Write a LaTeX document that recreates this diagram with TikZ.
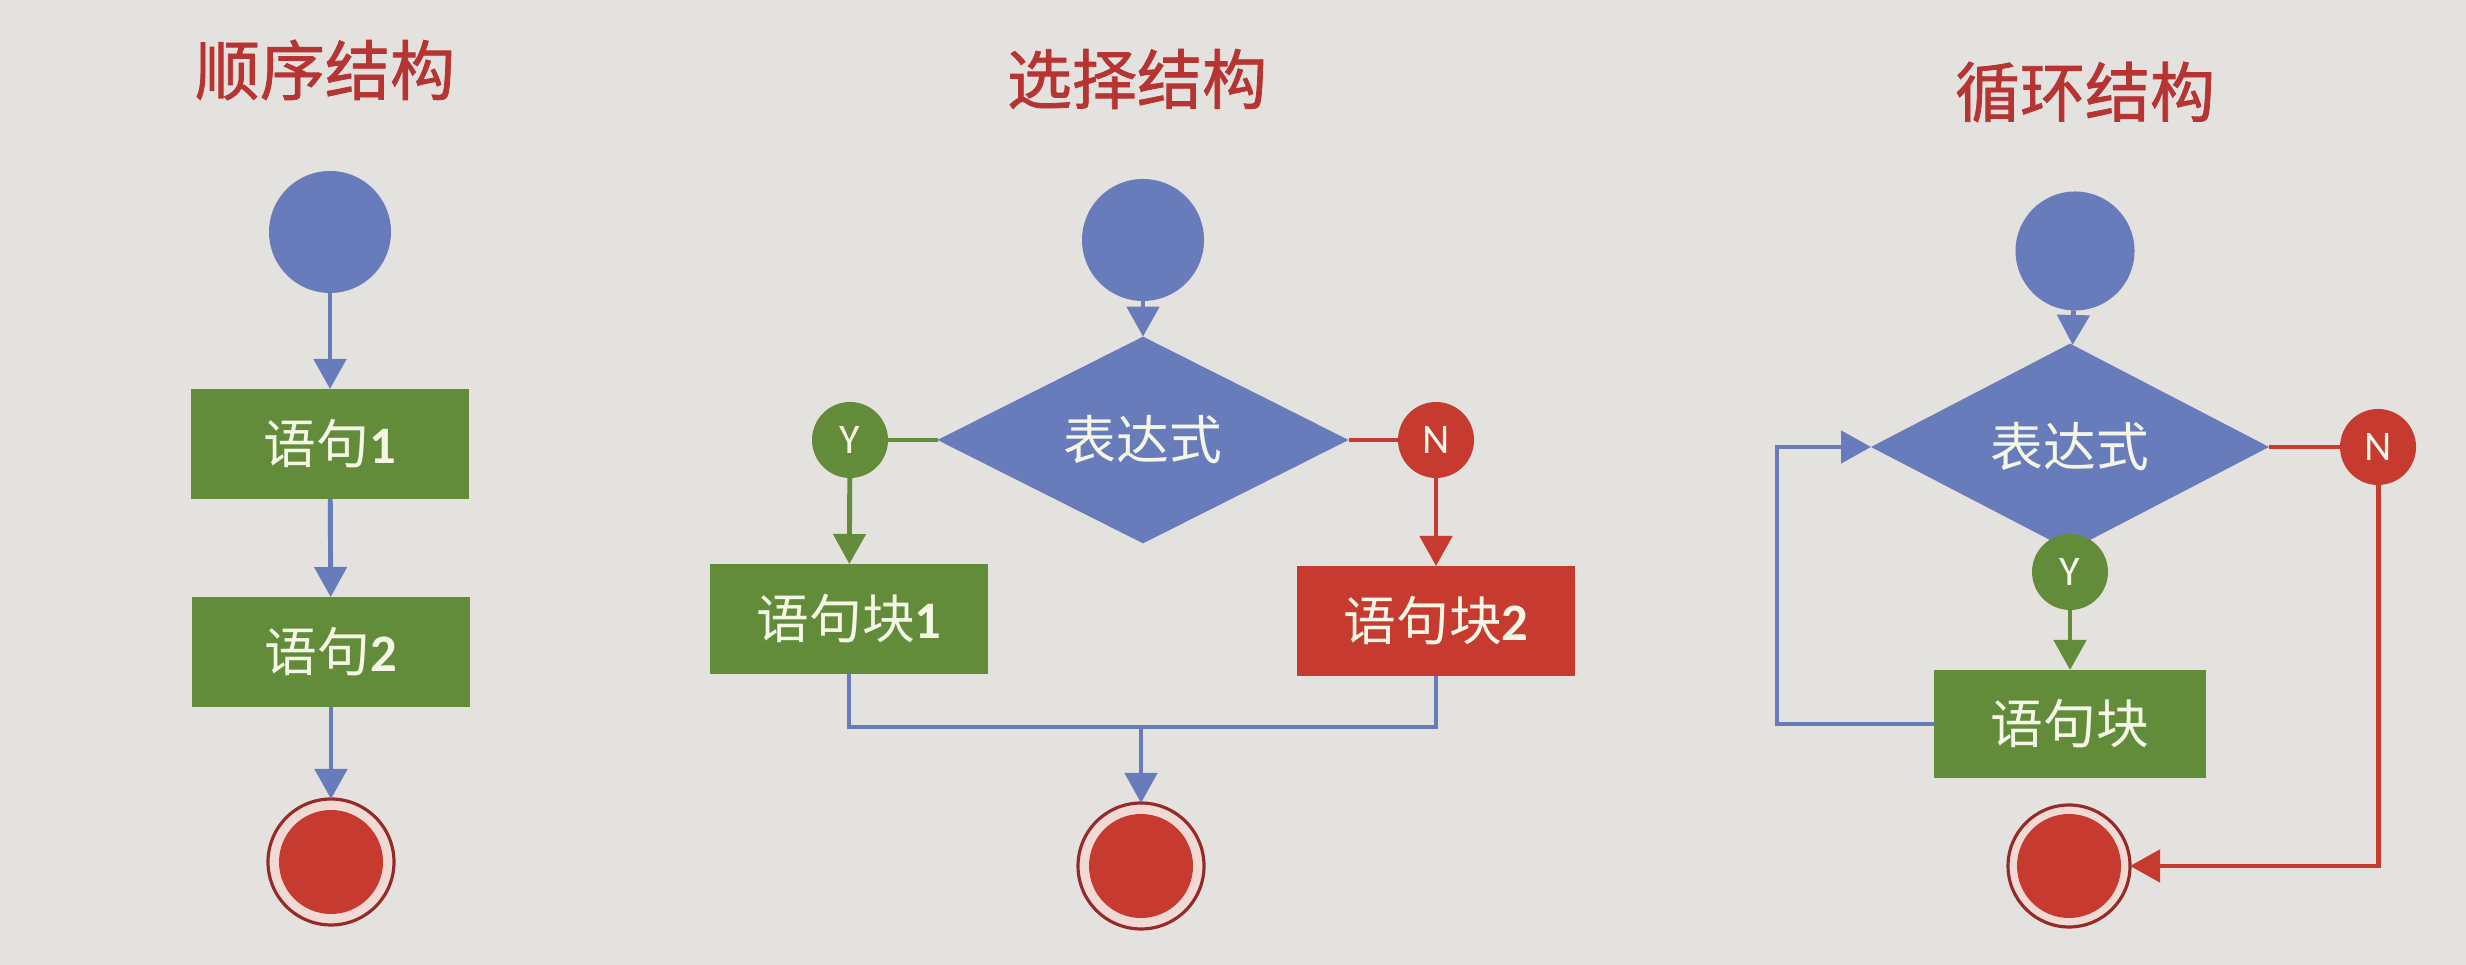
\documentclass[tikz,border=0pt]{standalone}
\usepackage{fontspec}
\setmainfont{Noto Sans CJK SC}
\newfontfamily\latin{Carlito}
\newfontfamily\headfont[FakeBold=1.2]{Noto Sans CJK SC}
\usetikzlibrary{shapes.geometric,arrows.meta}
\definecolor{paper}{RGB}{227,226,223}
\definecolor{flowblue}{RGB}{104,124,188}
\definecolor{flowgreen}{RGB}{98,140,58}
\definecolor{flowred}{RGB}{198,58,48}
\definecolor{titlered}{RGB}{182,52,50}
\definecolor{ringred}{RGB}{150,42,40}
\definecolor{gapred}{RGB}{242,218,212}
\definecolor{boxtext}{RGB}{244,246,230}
\begin{document}
\begin{tikzpicture}[line width=1.4pt,
  head/.style={color=titlered,font={\headfont\fontsize{18.5}{20}\selectfont}},
  startpt/.style={circle,fill=flowblue,minimum size=1.22cm,inner sep=0pt,outer sep=0pt},
  endpt/.style={circle,minimum size=1.26cm,inner sep=0pt,outer sep=0pt,draw=ringred,line width=0.9pt,fill=gapred,
    path picture={\fill[flowred](path picture bounding box.center) circle (0.52cm);}},
  stmt/.style={rectangle,fill=#1,text=boxtext,minimum width=2.78cm,minimum height=1.1cm,outer sep=0pt,font={\fontsize{15}{17}\selectfont}},
  cond/.style={diamond,fill=flowblue,text=boxtext,inner sep=0pt,outer sep=0pt,font={\fontsize{15}{17}\selectfont}},
  mark/.style={circle,fill=#1,text=boxtext,minimum size=0.76cm,inner sep=0pt,outer sep=0pt,font={\latin\fontsize{12}{12}\selectfont}},
  arr/.style={-{Triangle[width=0.32cm,length=0.3cm]}}]
\useasboundingbox[fill=paper] (0,0) rectangle (24.66,9.65);

\node[head] (t1) at (3.25,8.95) {顺序结构};
\node[startpt] (s1) at (3.30,7.33) {};
\node[stmt=flowgreen] (b1) at (3.30,5.21) {语句{\latin\bfseries 1}};
\node[stmt=flowgreen] (b2) at (3.31,3.13) {语句{\latin\bfseries 2}};
\node[endpt] (e1) at (3.31,1.03) {};
\draw[arr,flowblue] (s1) -- (b1);
\draw[arr,flowblue] (b1) -- (b2);
\draw[arr,flowblue] (b2) -- (e1);

\node[head] (t2) at (11.37,8.86) {选择结构};
\node[startpt] (s2) at (11.43,7.25) {};
\node[cond,minimum width=4.11cm,minimum height=1.35cm] (d2) at (11.43,5.25) {表达式};
\node[mark=flowgreen] (y2) at (8.50,5.25) {Y};
\node[mark=flowred] (n2) at (14.36,5.25) {N};
\node[stmt=flowgreen] (b3) at (8.49,3.46) {语句块{\latin\bfseries 1}};
\node[stmt=flowred] (b4) at (14.36,3.44) {语句块{\latin\bfseries 2}};
\coordinate (m2) at (11.41,2.38);
\node[endpt] (e2) at (11.41,0.99) {};
\draw[arr,flowblue] (s2) -- (d2);
\draw[flowgreen] (d2.west) -- (y2);
\draw[arr,flowgreen] (y2) -- (b3);
\draw[flowred] (d2.east) -- (n2);
\draw[arr,flowred] (n2) -- (b4);
\draw[flowblue] (b3) |- (m2) -| (b4);
\draw[arr,flowblue] (m2) -- (e2);

\node[head] (t3) at (20.85,8.73) {循环结构};
\node[startpt,minimum size=1.19cm] (s3) at (20.75,7.14) {};
\node[cond,minimum width=3.98cm,minimum height=1.31cm] (d3) at (20.70,5.18) {表达式};
\node[mark=flowred] (n3) at (23.78,5.18) {N};
\node[mark=flowgreen] (y3) at (20.70,3.93) {Y};
\node[stmt=flowgreen,minimum width=2.72cm,minimum height=1.08cm] (b5) at (20.70,2.41) {语句块};
\node[endpt,minimum size=1.22cm] (e3) at (20.69,0.99) {};
\coordinate (k3) at (17.77,2.41);
\draw[arr,flowblue] (s3) -- (d3);
\draw[flowgreen] (d3.south) -- (y3);
\draw[arr,flowgreen] (y3) -- (b5);
\draw[flowred] (d3.east) -- (n3);
\draw[arr,flowred] (n3) |- (e3);
\draw[arr,flowblue] (b5.west) -- (k3) |- (d3.west);
\end{tikzpicture}
\end{document}
